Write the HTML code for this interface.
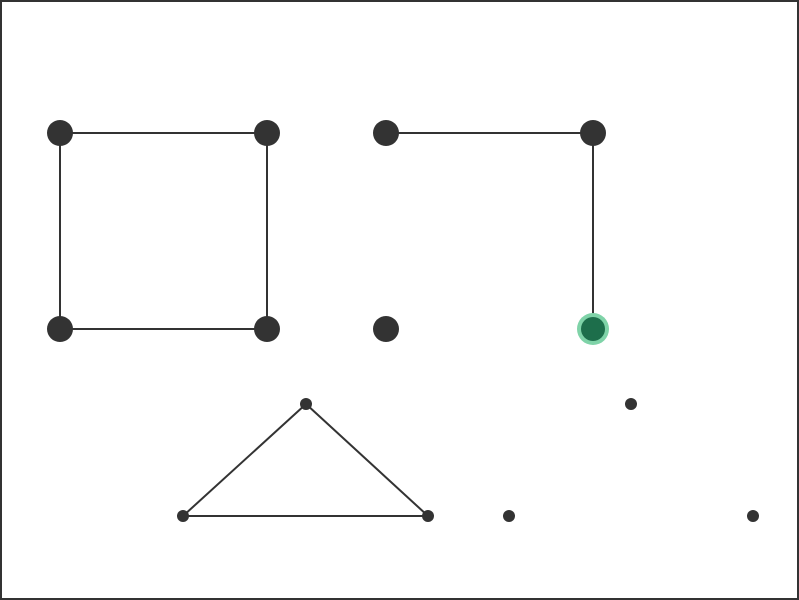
<!DOCTYPE html>
<html>
<head>
<meta charset="utf-8">
<style>
  html, body { margin: 0; padding: 0; background: #fff; }
  svg { display: block; }
</style>
</head>
<body>
<svg id="chart" width="799" height="600" viewBox="0 0 799 600" xmlns="http://www.w3.org/2000/svg">
  <rect x="1" y="1" width="797" height="598" fill="#fff" stroke="#333" stroke-width="2"/>
  <g id="edges"></g>
  <g id="nodes"></g>
</svg>
<script>
const nodeX = [60, 267, 60, 267, 386, 593, 386, 593, 306, 183, 428, 631, 509, 753];
const nodeY = [133, 133, 329, 329, 133, 133, 329, 329, 404, 516, 516, 404, 516, 516];
const nodeR = [13, 13, 13, 13, 13, 13, 13, 13, 6, 6, 6, 6, 6, 6];
const selectedNode = 7;
const edgeFrom = [0, 1, 3, 2, 4, 5, 8, 8, 9];
const edgeTo   = [1, 3, 2, 0, 5, 7, 9, 10, 10];

const NS = 'http://www.w3.org/2000/svg';
const eg = document.getElementById('edges');
const ng = document.getElementById('nodes');

for (let i = 0; i < edgeFrom.length; i++) {
  const l = document.createElementNS(NS, 'line');
  l.setAttribute('x1', nodeX[edgeFrom[i]]);
  l.setAttribute('y1', nodeY[edgeFrom[i]]);
  l.setAttribute('x2', nodeX[edgeTo[i]]);
  l.setAttribute('y2', nodeY[edgeTo[i]]);
  l.setAttribute('stroke', '#333');
  l.setAttribute('stroke-width', '2');
  
  
  eg.appendChild(l);
}

for (let i = 0; i < nodeX.length; i++) {
  if (i === selectedNode) {
    const halo = document.createElementNS(NS, 'circle');
    halo.setAttribute('cx', nodeX[i]);
    halo.setAttribute('cy', nodeY[i]);
    halo.setAttribute('r', nodeR[i] + 3);
    halo.setAttribute('fill', '#7fd3a8');
    
    
    ng.appendChild(halo);
  }
  const c = document.createElementNS(NS, 'circle');
  c.setAttribute('cx', nodeX[i]);
  c.setAttribute('cy', nodeY[i]);
  c.setAttribute('r', i === selectedNode ? nodeR[i] - 1 : nodeR[i]);
  c.setAttribute('fill', i === selectedNode ? '#1d6e4b' : '#333');
  
  
  ng.appendChild(c);
}
</script>
</body>
</html>
